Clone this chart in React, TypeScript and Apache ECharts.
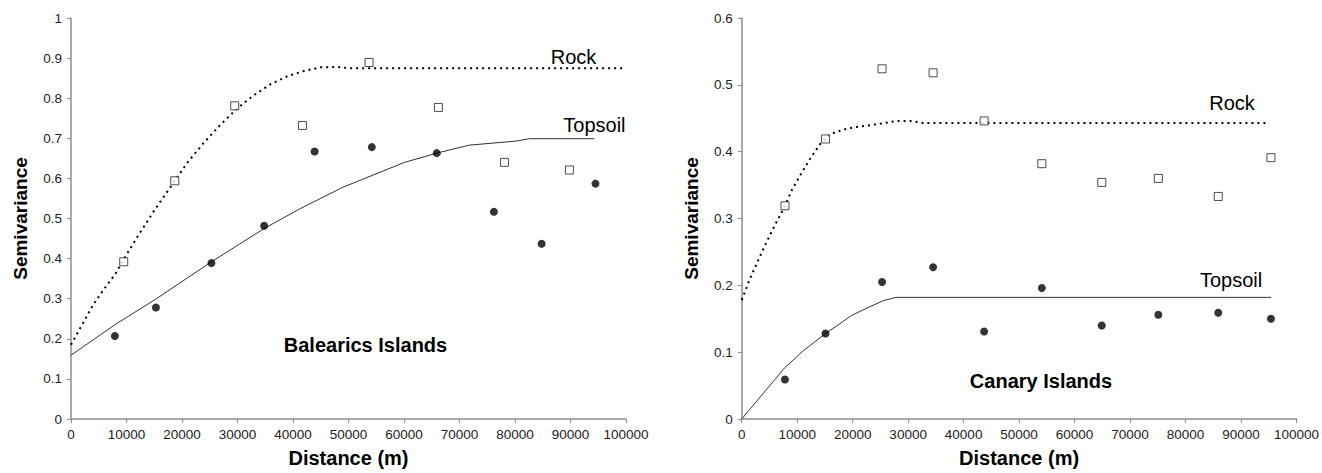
import React, { useEffect, useRef } from "react";
import * as echarts from "echarts";

// ---------------- Data ----------------
// Balearics Islands – experimental semivariogram (lag distance in m)
const balRockLagX = [9500, 18700, 29500, 41700, 53700, 66200, 78100, 89800];
const balRockGamma = [0.392, 0.594, 0.781, 0.732, 0.889, 0.777, 0.64, 0.621];
const balSoilLagX = [7900, 15300, 25300, 34800, 43900, 54200, 65900, 76200, 84800, 94500];
const balSoilGamma = [0.207, 0.278, 0.389, 0.482, 0.667, 0.678, 0.663, 0.517, 0.437, 0.587];

// Balearics – fitted models
const balRockModelX = [0, 2000, 4000, 6000, 8000, 10000, 12000, 15000, 18000, 21000, 24000, 27000, 30000, 33000, 36000, 39000, 42000, 45000, 48000, 50000, 100000];
const balRockModelY = [0.185, 0.235, 0.285, 0.325, 0.362, 0.41, 0.455, 0.52, 0.58, 0.64, 0.69, 0.735, 0.775, 0.808, 0.835, 0.855, 0.868, 0.877, 0.878, 0.875, 0.875];
const balSoilModelX = [0, 7900, 15400, 25300, 34800, 41200, 49000, 60100, 65900, 71800, 80200, 82600, 94300];
const balSoilModelY = [0.159, 0.235, 0.3, 0.392, 0.475, 0.524, 0.578, 0.64, 0.663, 0.683, 0.693, 0.699, 0.699];

// Canary Islands – experimental semivariogram
const canLagX = [7800, 15100, 25300, 34500, 43700, 54100, 64900, 75100, 85900, 95400];
const canRockGamma = [0.319, 0.419, 0.524, 0.518, 0.446, 0.382, 0.354, 0.36, 0.333, 0.391];
const canSoilGamma = [0.059, 0.128, 0.205, 0.227, 0.131, 0.196, 0.14, 0.156, 0.159, 0.15];

// Canary – fitted models
const canRockModelX = [0, 1500, 3000, 4500, 5800, 7800, 9000, 10500, 12300, 14100, 15900, 18300, 20700, 24300, 27900, 30300, 32700, 95000];
const canRockModelY = [0.178, 0.21, 0.238, 0.265, 0.287, 0.319, 0.342, 0.364, 0.389, 0.411, 0.426, 0.433, 0.437, 0.441, 0.446, 0.446, 0.443, 0.443];
const canSoilModelX = [0, 7800, 11100, 15100, 17100, 19800, 23100, 25500, 27800, 95400];
const canSoilModelY = [0, 0.077, 0.102, 0.128, 0.139, 0.155, 0.168, 0.177, 0.182, 0.182];

const panelTitles = ["Balearics Islands", "Canary Islands"];
const xAxisTitle = "Distance (m)";
const yAxisTitle = "Semivariance";

// ---------------- Helpers ----------------
const zip = (xs: number[], ys: number[]) => xs.map((x, i) => [x, ys[i]]);
const FONT = "Arial, 'Liberation Sans', sans-serif";
const AXIS_COLOR = "#8c8c8c";

function makeXAxis(gridIndex: number) {
  return {
    type: "value",
    gridIndex,
    min: 0,
    max: 100000,
    interval: 10000,
    name: xAxisTitle,
    nameLocation: "middle",
    nameGap: 29,
    nameTextStyle: { fontFamily: FONT, fontWeight: "bold", fontSize: 20, color: "#000" },
    splitLine: { show: false },
    axisLine: { show: true, lineStyle: { color: AXIS_COLOR, width: 1.5 } },
    axisTick: { show: true, length: 4, lineStyle: { color: AXIS_COLOR } },
    axisLabel: {
      margin: 8,
      fontFamily: FONT,
      fontSize: 13.5,
      color: "#222",
      formatter: (v: number) => String(v),
    },
  };
}

function makeYAxis(gridIndex: number, max: number) {
  return {
    type: "value",
    gridIndex,
    min: 0,
    max,
    interval: 0.1,
    name: yAxisTitle,
    nameLocation: "middle",
    nameGap: 41,
    nameTextStyle: { fontFamily: FONT, fontWeight: "bold", fontSize: 19, color: "#000" },
    splitLine: { show: false },
    axisLine: { show: true, lineStyle: { color: AXIS_COLOR, width: 1.5 } },
    axisTick: { show: true, length: 4, lineStyle: { color: AXIS_COLOR } },
    axisLabel: {
      margin: 9,
      fontFamily: FONT,
      fontSize: 13.5,
      color: "#222",
      formatter: (v: number) => String(Math.round(v * 10) / 10),
    },
  };
}

const rockLine = (xi: number, data: number[][]) => ({
  type: "line",
  xAxisIndex: xi,
  yAxisIndex: xi,
  data,
  showSymbol: false,
  symbol: "none",
  smooth: false,
  lineStyle: { color: "#000", width: 2, type: [2, 4] },
  z: 2,
});

const soilLine = (xi: number, data: number[][]) => ({
  type: "line",
  xAxisIndex: xi,
  yAxisIndex: xi,
  data,
  showSymbol: false,
  symbol: "none",
  smooth: false,
  lineStyle: { color: "#333", width: 1 },
  z: 2,
});

const rockPts = (xi: number, data: number[][]) => ({
  type: "scatter",
  xAxisIndex: xi,
  yAxisIndex: xi,
  data,
  symbol: "rect",
  symbolSize: 8,
  itemStyle: { color: "#fff", borderColor: "#222", borderWidth: 1 },
  z: 3,
});

const soilPts = (xi: number, data: number[][]) => ({
  type: "scatter",
  xAxisIndex: xi,
  yAxisIndex: xi,
  data,
  symbol: "circle",
  symbolSize: 8,
  itemStyle: { color: "#000" },
  z: 3,
});

const label = (text: string, x: number, y: number, bold = false, align = "left") => ({
  type: "text",
  x,
  y,
  style: {
    text,
    fontFamily: FONT,
    fontSize: 20,
    fontWeight: bold ? "bold" : "normal",
    fill: "#000",
    align,
    verticalAlign: "middle",
  },
  z: 10,
});

export default function App() {
  const ref = useRef<HTMLDivElement>(null);

  useEffect(() => {
    if (!ref.current) return;
    const chart = echarts.init(ref.current, undefined, { renderer: "svg" });
    chart.setOption({
      animation: false,
      backgroundColor: "#fff",
      grid: [
        { left: 71, top: 18, width: 555, height: 403.7, containLabel: false },
        { left: 741.7, top: 18, width: 555, height: 403.7, containLabel: false },
      ],
      xAxis: [makeXAxis(0), makeXAxis(1)],
      yAxis: [makeYAxis(0, 1), makeYAxis(1, 0.6)],
      series: [
        rockLine(0, zip(balRockModelX, balRockModelY)),
        soilLine(0, zip(balSoilModelX, balSoilModelY)),
        rockPts(0, zip(balRockLagX, balRockGamma)),
        soilPts(0, zip(balSoilLagX, balSoilGamma)),
        rockLine(1, zip(canRockModelX, canRockModelY)),
        soilLine(1, zip(canSoilModelX, canSoilModelY)),
        rockPts(1, zip(canLagX, canRockGamma)),
        soilPts(1, zip(canLagX, canSoilGamma)),
      ],
      graphic: [
        label("Rock", 550.7, 57),
        label("Topsoil", 563.3, 125),
        label(panelTitles[0], 365.5, 345, true, "center"),
        label("Rock", 1209.3, 103.3),
        label("Topsoil", 1200, 280),
        label(panelTitles[1], 1041, 380.7, true, "center"),
      ],
    });
    return () => chart.dispose();
  }, []);

  return (
    <div
      ref={ref}
      style={{ position: "absolute", left: 0, top: 0, width: 1322, height: 473, background: "#fff" }}
    />
  );
}
